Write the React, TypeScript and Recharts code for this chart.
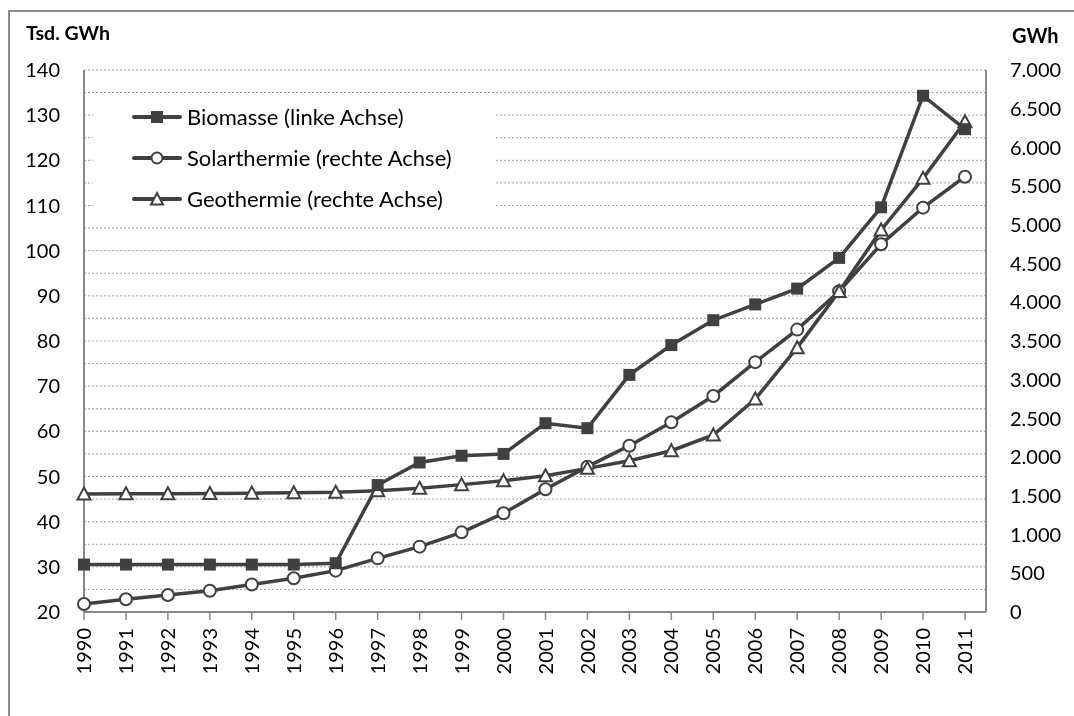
import React from "react";
import { CartesianGrid, Legend, Line, LineChart, XAxis, YAxis } from "recharts";

// Wärme aus erneuerbaren Energien, 1990–2011
const jahre = [
  "1990", "1991", "1992", "1993", "1994", "1995", "1996", "1997", "1998", "1999", "2000",
  "2001", "2002", "2003", "2004", "2005", "2006", "2007", "2008", "2009", "2010", "2011",
];
// linke Achse, Tsd. GWh
const biomasse = [
  30.5, 30.5, 30.5, 30.5, 30.5, 30.5, 30.8, 48.1, 53.1, 54.6, 55.0,
  61.8, 60.7, 72.5, 79.1, 84.6, 88.1, 91.6, 98.4, 109.6, 134.3, 126.9,
];
// rechte Achse, GWh
const solarthermie = [
  103, 164, 220, 275, 355, 435, 534, 693, 844, 1029, 1275,
  1585, 1877, 2148, 2450, 2790, 3227, 3647, 4143, 4749, 5222, 5622,
];
const geothermie = [
  1524, 1526, 1528, 1530, 1535, 1540, 1546, 1567, 1597, 1645, 1696,
  1760, 1855, 1954, 2083, 2286, 2751, 3414, 4140, 4934, 5601, 6332,
];

const linkeTicks = [20, 25, 30, 35, 40, 45, 50, 55, 60, 65, 70, 75, 80, 85, 90, 95, 100, 105, 110, 115, 120, 125, 130, 135, 140];
const rechteTicks = [0, 500, 1000, 1500, 2000, 2500, 3000, 3500, 4000, 4500, 5000, 5500, 6000, 6500, 7000];

const data = jahre.map((jahr, i) => ({
  jahr,
  biomasse: biomasse[i],
  solar: solarthermie[i],
  geo: geothermie[i],
}));

const DARK = "#404040";
const AXIS = "#888888";
const FONT = "Lato";
const FS = 20;

const legendOrder = ["biomasse", "solar", "geo"];

// 1.500 statt 1500
const deZahl = (v: number) =>
  v >= 1000 ? `${Math.floor(v / 1000)}.${String(v % 1000).padStart(3, "0")}` : String(v);

const Square = (p: any) =>
  p.cx == null ? null : (
    <rect key={`sq-${p.index}`} x={p.cx - 6} y={p.cy - 6} width={12} height={12} fill={DARK} />
  );

const Triangle = (p: any) =>
  p.cx == null ? null : (
    <path
      key={`tr-${p.index}`}
      d={`M${p.cx},${p.cy - 6.5} L${p.cx + 6.5},${p.cy + 5.5} L${p.cx - 6.5},${p.cy + 5.5} Z`}
      fill="#fff"
      stroke={DARK}
      strokeWidth={2}
    />
  );

const marker = (key: string) => {
  if (key === "biomasse") return <rect x={19} y={2} width={12} height={12} fill={DARK} />;
  if (key === "solar") return <circle cx={25} cy={8} r={5.5} fill="#fff" stroke={DARK} strokeWidth={2} />;
  return <path d="M25,2 L31,13.5 L19,13.5 Z" fill="#fff" stroke={DARK} strokeWidth={2} />;
};

const renderLegend = (props: any) => {
  const items = [...(props.payload ?? [])].sort(
    (a: any, b: any) => legendOrder.indexOf(a.dataKey) - legendOrder.indexOf(b.dataKey)
  );
  return (
    <div
      style={{
        background: "#fff",
        width: 402,
        height: 129,
        boxSizing: "border-box",
        paddingTop: 3,
        paddingLeft: 39,
      }}
    >
      {items.map((it: any) => (
        <div key={it.dataKey} style={{ display: "flex", alignItems: "center", height: 41 }}>
          <svg width={50} height={16} style={{ display: "block" }}>
            <line x1={2} y1={8} x2={48} y2={8} stroke={DARK} strokeWidth={4} strokeLinecap="round" />
            {marker(it.dataKey)}
          </svg>
          <span style={{ marginLeft: 5, fontSize: 22, fontFamily: FONT, color: "#000", lineHeight: 1 }}>
            {it.value}
          </span>
        </div>
      ))}
    </div>
  );
};

const JahrTick = (p: any) => (
  <text
    transform={`translate(${p.x},${p.y}) rotate(-90)`}
    textAnchor="end"
    dy="0.355em"
    fontSize={FS}
    fontFamily={FONT}
    fill="#000"
  >
    {p.payload.value}
  </text>
);

export default function App() {
  return (
    <div style={{ position: "relative", width: 1066, height: 700, fontFamily: FONT }}>
      <div
        style={{
          position: "fixed",
          left: 8,
          top: 10,
          width: 1080,
          height: 730,
          border: "2px solid #8c8c8c",
          pointerEvents: "none",
        }}
      />
      <div style={{ position: "absolute", left: 18, top: 15, fontWeight: 700, fontSize: 19.5, lineHeight: 1 }}>
        Tsd. GWh
      </div>
      <div style={{ position: "absolute", left: 1004, top: 17, fontWeight: 700, fontSize: 20, lineHeight: 1 }}>
        GWh
      </div>
      <LineChart width={1066} height={700} data={data} margin={{ top: 62, right: 8, bottom: 16, left: 16 }}>
        <CartesianGrid vertical={false} yAxisId="left" stroke="#a0a0a0" strokeDasharray="2 2" />
        <XAxis
          dataKey="jahr"
          interval={0}
          height={80}
          padding={{ left: 0, right: 21 }}
          axisLine={{ stroke: AXIS, strokeWidth: 2 }}
          tickLine={{ stroke: AXIS, strokeWidth: 1.5 }}
          tickSize={8}
          tickMargin={8}
          tick={<JahrTick />}
        />
        <YAxis
          yAxisId="left"
          domain={[20, 140]}
          ticks={linkeTicks}
          interval={0}
          width={60}
          tickLine={false}
          tickSize={0}
          tickMargin={24}
          axisLine={{ stroke: AXIS, strokeWidth: 2 }}
          tickFormatter={(v: number) => (v % 10 === 0 ? String(v) : "")}
          tick={{ fill: "#000", fontSize: FS, fontFamily: FONT }}
        />
        <YAxis
          yAxisId="right"
          orientation="right"
          domain={[0, 7000]}
          ticks={rechteTicks}
          interval={0}
          width={80}
          tickLine={false}
          tickSize={0}
          tickMargin={24}
          axisLine={{ stroke: AXIS, strokeWidth: 2 }}
          tickFormatter={deZahl}
          tick={{ fill: "#000", fontSize: FS, fontFamily: FONT, textAnchor: "start" }}
        />
        <Legend
          layout="vertical"
          align="center"
          verticalAlign="middle"
          content={renderLegend}
          wrapperStyle={{ left: 85, top: 85, width: 402, height: 129 }}
        />
        <Line
          yAxisId="right"
          dataKey="solar"
          name="Solarthermie (rechte Achse)"
          type="linear"
          stroke={DARK}
          strokeWidth={3.5}
          dot={{ r: 6, fill: "#fff", stroke: DARK, strokeWidth: 2 }}
          isAnimationActive={false}
        />
        <Line
          yAxisId="right"
          dataKey="geo"
          name="Geothermie (rechte Achse)"
          type="linear"
          stroke={DARK}
          strokeWidth={3.5}
          dot={<Triangle />}
          isAnimationActive={false}
        />
        <Line
          yAxisId="left"
          dataKey="biomasse"
          name="Biomasse (linke Achse)"
          type="linear"
          stroke={DARK}
          strokeWidth={3.5}
          dot={<Square />}
          isAnimationActive={false}
        />
      </LineChart>
    </div>
  );
}
